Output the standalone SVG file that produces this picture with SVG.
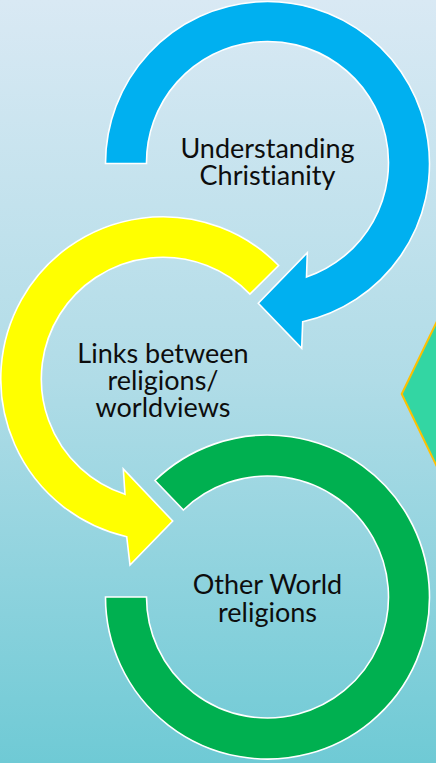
<svg xmlns="http://www.w3.org/2000/svg" width="436" height="763" viewBox="0 0 436 763">
  <defs>
    <linearGradient id="bg" x1="0" y1="0" x2="0" y2="1">
      <stop offset="0" stop-color="#D9E9F4"/>
      <stop offset="0.5" stop-color="#B0DCE7"/>
      <stop offset="1" stop-color="#6FCAD5"/>
    </linearGradient>
    <style>
      .arc { stroke: #FFFFFF; stroke-width: 1.6; stroke-linejoin: miter; }
      .label { font-family: Lato, "Open Sans", "Liberation Sans", sans-serif; font-size: 27px; fill: #0D0D0D; text-anchor: middle; font-variant-ligatures: none; font-feature-settings: "liga" 0; }
    </style>
  </defs>

  <!-- background -->
  <rect x="0" y="0" width="436" height="763" fill="url(#bg)"/>

  <!-- partial shape on the right edge -->
  <g id="side-shape">
    <polygon points="401.7,394 470,253 470,535" fill="#33D6A3" stroke="#FFC000" stroke-width="2"/>
  </g>

  <g id="connectors">
    <!-- circular flow: each arc carries the arrow into the next stage -->
  </g>

  <g id="node-christianity">
    <path class="arc" fill="#00B0F0"
      d="M105.5,163.5 A162 162 0 1 1 302.7,321.7 L301.7,348.3 L258.3,303.3 L307.3,252.7 L306.5,277 A121 121 0 1 0 146.5,163.5 Z"/>
    <text class="label" x="267.5" y="158">Understanding</text>
    <text class="label" x="267.5" y="185">Christianity</text>
  </g>

  <g id="node-links">
    <path class="arc" fill="#FFFF00"
      d="M278.6,265.5 A162 162 0 1 0 126.7,536.7 L130,565 L172.7,521 L123.3,469 L125,494.3 A121.5 121.5 0 1 1 249.9,294.1 Z"/>
    <text class="label" x="163" y="363">Links between</text>
    <text class="label" x="163" y="390">religions/</text>
    <text class="label" x="163" y="417">worldviews</text>
  </g>

  <g id="node-other">
    <path class="arc" fill="#00B050"
      d="M155,480.5 A162 162 0 1 1 105.5,597 L146.5,597 A121 121 0 1 0 183.4,510 Z"/>
    <text class="label" x="267.5" y="594">Other World</text>
    <text class="label" x="267.5" y="622">religions</text>
  </g>
</svg>
